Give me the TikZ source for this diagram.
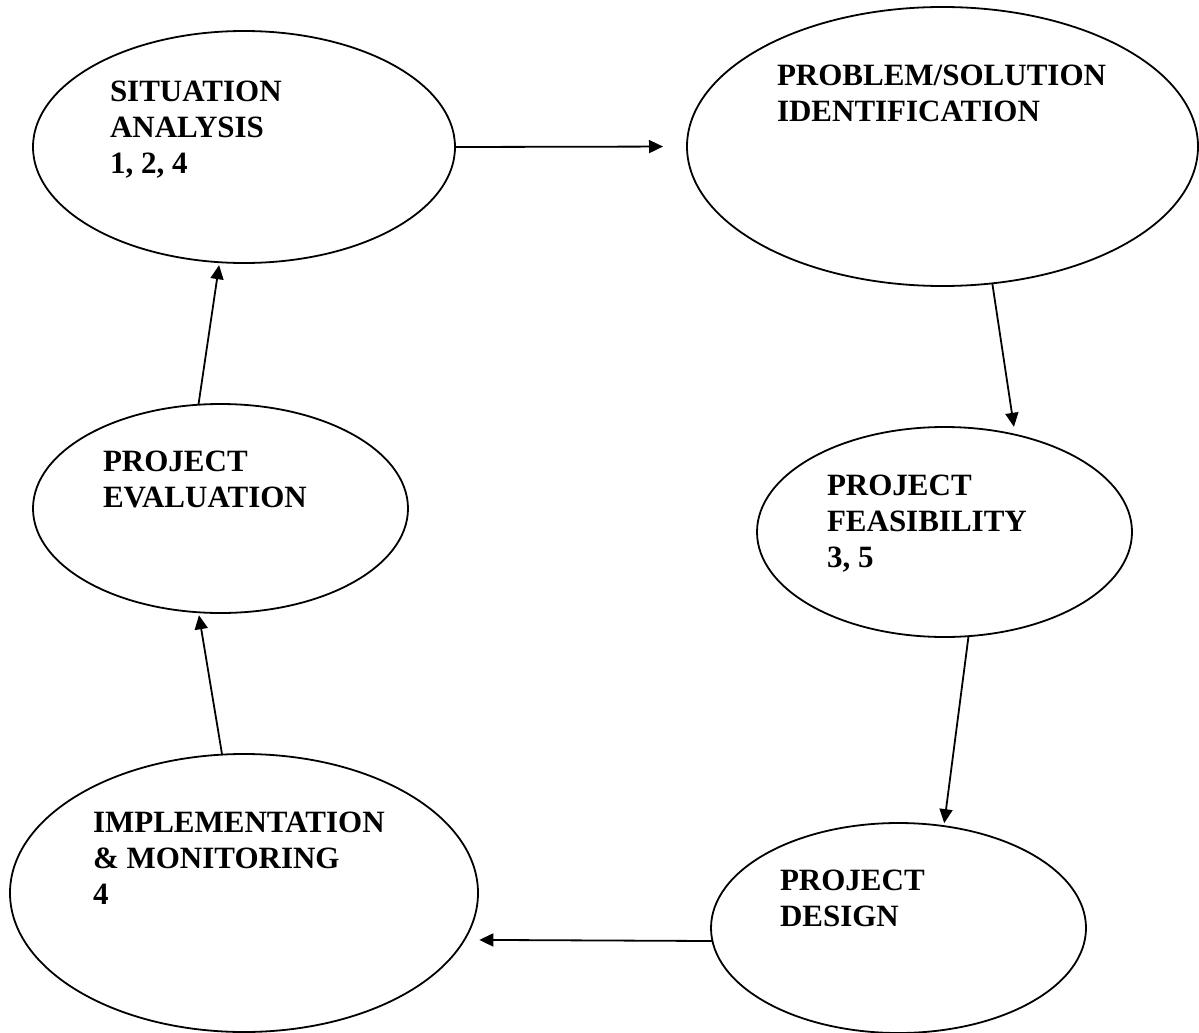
\documentclass[tikz,border=0pt]{standalone}
\usepackage{fontspec}
\setmainfont{Liberation Serif}
\usetikzlibrary{shapes.geometric,arrows.meta}
\begin{document}
\begin{tikzpicture}[x=1pt,y=-1pt,
  stage/.style={draw, ellipse, line width=1.8pt, inner sep=0pt, outer sep=0pt},
  caption/.style={anchor=base west, inner sep=0pt, outer sep=0pt,
    font=\fontsize{31pt}{36pt}\selectfont\bfseries},
  flow/.style={line width=1.8pt, -{Triangle[length=14pt,width=13pt]}}]
\useasboundingbox (0,0) rectangle (1199,1033);

% the six stages of the cycle
\node[stage, minimum width=422pt, minimum height=232pt] (sa) at (244,147) {};
\node[stage, minimum width=511pt, minimum height=279pt] (ps) at (942.5,146.5) {};
\node[stage, minimum width=375pt, minimum height=210pt] (pf) at (944.5,532) {};
\node[stage, minimum width=375pt, minimum height=210pt] (pd) at (898.5,928) {};
\node[stage, minimum width=468pt, minimum height=278pt] (im) at (244,893) {};
\node[stage, minimum width=375pt, minimum height=209pt] (pe) at (220.5,508.5) {};

% stage titles
\node[caption] (saText) at (110,101) {\vtop{\hbox{SITUATION}\hbox{ANALYSIS}\hbox{1, 2, 4}}};
\node[caption] (psText) at (777,85) {\vtop{\hbox{PROBLEM/SOLUTION}\hbox{IDENTIFICATION}}};
\node[caption] (pfText) at (827,495) {\vtop{\hbox{PROJECT}\hbox{FEASIBILITY}\hbox{3, 5}}};
\node[caption] (pdText) at (780,890) {\vtop{\hbox{PROJECT}\hbox{DESIGN}}};
\node[caption] (imText) at (93,832) {\vtop{\hbox{IMPLEMENTATION}\hbox{\& MONITORING}\hbox{4}}};
\node[caption] (peText) at (103,471) {\vtop{\hbox{PROJECT}\hbox{EVALUATION}}};

% flow between stages
\draw[flow, shorten >=24pt] (sa.east) -- (ps.west);
\draw[flow, shorten >=8pt] (ps.-70.7) -- (pf.54.9);
\draw[flow, shorten >=3pt] (pf.-77.1) -- (pd.66.2);
\draw[flow, shorten >=15pt] (pd.-176) -- (im.-12.3);
\draw[flow, shorten >=3pt] (im.99.8) -- (pe.-102.5);
\draw[flow, shorten >=3pt] (pe.102.2) -- (sa.-102);
\end{tikzpicture}
\end{document}
